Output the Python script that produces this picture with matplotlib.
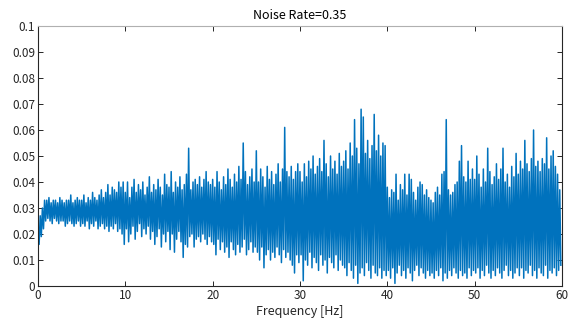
import numpy as np
import matplotlib
matplotlib.use('Agg')
import matplotlib.pyplot as plt

plt.rcParams['font.family'] = ['Noto Sans CJK JP', 'DejaVu Sans']

# spectrum, every 0.25 Hz: upper and lower swing of the trace (x 1e-3)
highs = [
    24, 27, 30, 33, 33, 34, 32, 33, 33, 32, 34, 33, 32, 33, 33, 35, 32, 33, 34, 33,   # 0-5 Hz
    33, 35, 32, 34, 33, 36, 34, 33, 35, 37, 34, 36, 39, 35, 38, 37, 36, 40, 38, 40,   # 5-10
    36, 40, 34, 38, 41, 36, 39, 37, 40, 35, 38, 42, 36, 39, 37, 41, 38, 35, 43, 39,   # 10-15
    38, 44, 36, 40, 38, 42, 37, 39, 43, 53, 37, 40, 41, 39, 42, 38, 41, 44, 40, 39,   # 15-20
    41, 38, 44, 40, 37, 42, 39, 45, 41, 38, 43, 40, 46, 41, 55, 44, 39, 42, 45, 40,   # 20-25
    52, 40, 45, 42, 38, 46, 41, 44, 39, 43, 47, 40, 45, 61, 44, 42, 46, 41, 44, 47,   # 25-30
    44, 40, 47, 42, 48, 45, 50, 43, 46, 49, 44, 56, 47, 42, 50, 45, 48, 43, 51, 46,   # 30-35
    48, 52, 45, 55, 50, 64, 53, 47, 68, 65, 51, 56, 49, 54, 66, 52, 58, 50, 55, 54,   # 35-40
    38, 34, 37, 36, 43, 33, 39, 37, 43, 35, 43, 41, 36, 33, 38, 40, 39, 35, 37, 34,   # 40-45
    33, 32, 36, 38, 35, 43, 44, 64, 37, 35, 36, 39, 40, 48, 54, 42, 40, 48, 41, 45,   # 45-50
    41, 50, 43, 38, 45, 40, 53, 44, 39, 42, 47, 41, 45, 53, 40, 43, 38, 46, 42, 51,   # 50-55
    43, 48, 45, 56, 47, 44, 49, 60, 46, 48, 44, 49, 47, 57, 45, 50, 52, 46, 43, 37,   # 55-60
]
lows = [
    16, 19, 22, 25, 26, 25, 24, 26, 25, 24, 25, 25, 23, 24, 25, 24, 23, 24, 25, 23,
    24, 23, 25, 22, 24, 23, 25, 22, 23, 24, 22, 23, 21, 23, 22, 24, 21, 22, 20, 16,
    22, 17, 20, 23, 18, 21, 24, 19, 22, 20, 23, 18, 21, 16, 19, 22, 15, 20, 17, 21,
    14, 20, 13, 18, 21, 17, 11, 16, 15, 19, 20, 15, 18, 19, 17, 20, 18, 16, 19, 17,
    16, 12, 18, 14, 17, 13, 15, 11, 17, 14, 12, 16, 13, 15, 18, 12, 14, 17, 13, 15,
    13, 10, 15, 7, 12, 14, 10, 13, 11, 15, 12, 9, 14, 11, 13, 10, 8, 5, 12, 9,
    12, 2, 10, 8, 13, 7, 11, 9, 6, 12, 8, 10, 5, 11, 9, 7, 12, 6, 10, 8,
    7, 4, 9, 6, 3, 8, 1, 5, 7, 4, 9, 6, 3, 8, 5, 4, 7, 3, 6, 4,
    6, 3, 7, 1, 5, 8, 4, 6, 3, 7, 5, 2, 6, 8, 4, 7, 5, 3, 6, 4,
    5, 3, 6, 4, 7, 2, 5, 3, 6, 4, 7, 5, 3, 6, 4, 5, 3, 7, 4, 6,
    5, 7, 3, 6, 4, 8, 5, 3, 6, 4, 7, 5, 3, 6, 8, 4, 6, 3, 5, 7,
    4, 7, 3, 6, 5, 8, 4, 6, 3, 7, 5, 4, 8, 3, 6, 5, 7, 4, 6, 8,
]
step = 0.25
title = 'Noise Rate=0.35'
xlabel = 'Frequency [Hz]'

# interleave upper and lower swings into one trace
n = len(highs)
freq = np.empty(2 * n)
amp = np.empty(2 * n)
freq[0::2] = np.arange(n) * step
freq[1::2] = np.arange(n) * step + step / 2
amp[0::2] = np.array(highs) * 1e-3
amp[1::2] = np.array(lows) * 1e-3

fig = plt.figure(figsize=(5.77, 3.25), dpi=100)
ax = fig.add_axes([0.0659, 0.12, 0.908, 0.8])
ax.plot(freq, amp, color='#0072BD', linewidth=1.1)

ax.set_xlim(0, 60)
ax.set_ylim(0, 0.1)
ax.set_xticks(np.arange(0, 61, 10))
ax.set_yticks(np.arange(0, 0.101, 0.01))
ax.set_yticklabels(['0'] + ['%g' % v for v in np.arange(0.01, 0.101, 0.01)])
ax.tick_params(direction='in', length=3.5, width=0.7, top=True, right=True,
               labelsize=8.5, colors='#262626', pad=2)
for s in ['left', 'bottom', 'right']:
    ax.spines[s].set_color('#262626')
    ax.spines[s].set_linewidth(0.8)
ax.spines['top'].set_color('#b0b0b0')
ax.spines['top'].set_linewidth(0.8)

ax.set_title(title, fontsize=9, color='#000000', pad=5)
ax.set_xlabel(xlabel, fontsize=9, color='#262626', labelpad=2)

plt.savefig('out.png', dpi=100)
